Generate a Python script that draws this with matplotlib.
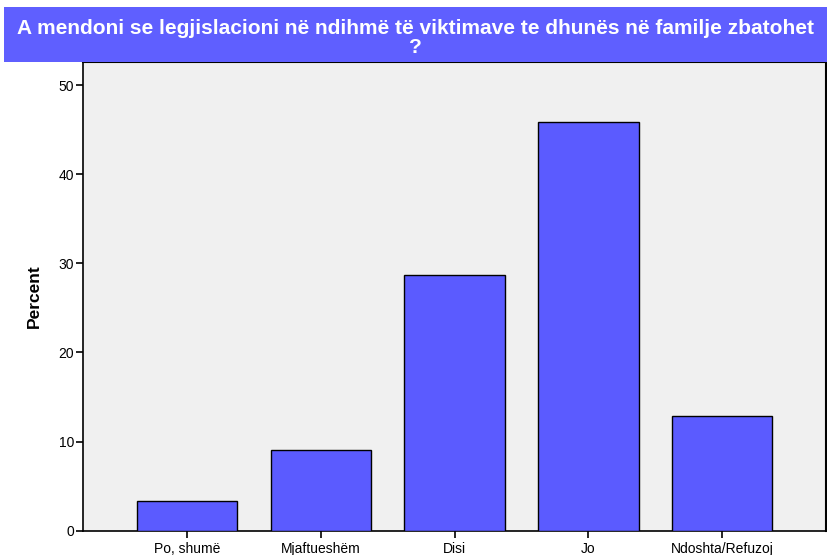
import matplotlib
matplotlib.use("Agg")
import matplotlib.pyplot as plt
from matplotlib.patches import Rectangle

categories = ["Po, shumë", "Mjaftueshëm", "Disi", "Jo", "Ndoshta/Refuzoj"]
percent = [3.37, 9.06, 28.7, 45.9, 12.87]
yticks = [0, 10, 20, 30, 40, 50]
title = "A mendoni se legjislacioni në ndihmë të viktimave te dhunës në familje zbatohet\n?"

plt.rcParams['font.family'] = ['Liberation Sans', 'DejaVu Sans']

W, H = 827, 555
fig = plt.figure(figsize=(W/100, H/100), dpi=100)
fig.patch.set_facecolor('white')

# title box
fig.patches.append(Rectangle((4/W, 1 - 62/H), (W-4)/W, 55/H, transform=fig.transFigure,
                             facecolor='#5f5fff', edgecolor='none', zorder=0))
fig.text((4 + W)/2/W, 1 - 38/H, title, ha='center', va='center', color='white',
         fontsize=15, fontweight='bold', linespacing=0.95)

ax = fig.add_axes([82.7/W, 1 - 530.7/H, (826 - 82.7)/W, (530.7 - 62)/H])
ax.set_facecolor('#f0f0f0')
x = list(range(len(categories)))
ax.bar(x, percent, width=0.752, color='#5b5bff', edgecolor='black', linewidth=1.0, zorder=3)
ax.set_xlim(-0.78, 4.776)
ax.set_ylim(0, 52.6)
ax.set_yticks(yticks)
ax.set_xticks(x)
ax.set_xticklabels(categories, fontsize=10)
ax.tick_params(axis='y', labelsize=10, length=5, width=1.2, pad=1)
ax.tick_params(axis='x', length=5, width=1.2, pad=3)
for s in ax.spines.values():
    s.set_linewidth(1.5)
    s.set_color('black')
ax.spines['left'].set_linewidth(1.2)
ax.spines['bottom'].set_linewidth(1.2)
ax.set_ylabel("Percent", fontsize=12.5, fontweight='bold', labelpad=12)

fig.savefig("out.png", dpi=100)
